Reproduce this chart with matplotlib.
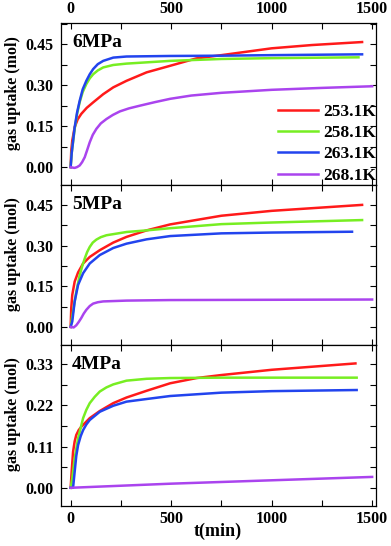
import matplotlib
matplotlib.use("Agg")
import matplotlib.pyplot as plt
from matplotlib.ticker import MultipleLocator, AutoMinorLocator

plt.rcParams.update({
    "font.family": ["Liberation Serif", "DejaVu Serif"],
    "font.weight": "bold",
    "axes.labelweight": "bold",
    "font.size": 11.5,
})

LABELS = ["253.1K", "258.1K", "263.1K", "268.1K"]
COLORS = ["#ff1a1a", "#77ee22", "#2244ee", "#aa44ee"]
PANELS = ["6MPa", "5MPa", "4MPa"]

# ---- 6 MPa ----
t6_red = [0, 3, 8, 20, 35, 53, 80, 112, 162, 212, 278, 378, 495, 625, 750, 1000, 1200, 1450]
y6_red = [0, 0.06, 0.097, 0.146, 0.175, 0.195, 0.217, 0.237, 0.267, 0.292, 0.316, 0.347,
          0.371, 0.398, 0.41, 0.435, 0.447, 0.458]
t6_grn = [0, 5, 20, 32, 45, 60, 78, 95, 112, 135, 162, 212, 278, 495, 750, 1000, 1432]
y6_grn = [0, 0.05, 0.14, 0.195, 0.238, 0.275, 0.304, 0.325, 0.34, 0.354, 0.365, 0.374,
          0.379, 0.389, 0.396, 0.399, 0.402]
t6_blu = [0, 5, 20, 32, 45, 60, 78, 95, 112, 135, 162, 212, 278, 495, 750, 1000, 1450]
y6_blu = [0, 0.05, 0.146, 0.2, 0.243, 0.285, 0.316, 0.34, 0.359, 0.377, 0.389, 0.401,
          0.405, 0.407, 0.408, 0.41, 0.413]
t6_pur = [0, 10, 20, 32, 45, 57, 70, 82, 95, 110, 128, 150, 178, 210, 245, 290, 345, 420,
          495, 600, 750, 1000, 1250, 1500]
y6_pur = [0, -0.002, -0.003, 0.0, 0.006, 0.018, 0.036, 0.062, 0.091, 0.118, 0.14, 0.16,
          0.176, 0.191, 0.204, 0.215, 0.225, 0.238, 0.25, 0.262, 0.272, 0.283, 0.29, 0.296]

# ---- 5 MPa ----
t5_red = [0, 3, 8, 20, 37, 62, 95, 145, 212, 278, 378, 495, 750, 1000, 1450]
y5_red = [0, 0.07, 0.118, 0.167, 0.201, 0.234, 0.258, 0.283, 0.311, 0.332, 0.356,
          0.378, 0.41, 0.428, 0.45]
t5_grn = [0, 12, 28, 45, 58, 70, 82, 95, 110, 128, 150, 178, 278, 378, 495, 750, 1000, 1450]
y5_grn = [0, 0.057, 0.13, 0.191, 0.225, 0.252, 0.276, 0.295, 0.311, 0.322, 0.331, 0.338,
          0.35, 0.356, 0.364, 0.379, 0.385, 0.394]
t5_blu = [0, 8, 20, 37, 62, 95, 145, 212, 278, 378, 495, 750, 1000, 1400]
y5_blu = [0, 0.02, 0.094, 0.155, 0.198, 0.234, 0.265, 0.291, 0.307, 0.323, 0.335,
          0.345, 0.348, 0.351]
t5_pur = [0, 15, 28, 40, 53, 65, 78, 95, 112, 135, 162, 278, 495, 1000, 1500]
y5_pur = [0, -0.002, 0.006, 0.018, 0.033, 0.049, 0.063, 0.077, 0.086, 0.091, 0.094,
          0.097, 0.099, 0.1, 0.101]

# ---- 4 MPa ----
t4_red = [0, 5, 12, 20, 28, 40, 53, 95, 145, 212, 278, 378, 495, 627, 750, 1000, 1417]
y4_red = [0, 0.043, 0.096, 0.124, 0.141, 0.154, 0.163, 0.186, 0.205, 0.226, 0.241, 0.259,
          0.279, 0.293, 0.301, 0.315, 0.332]
t4_grn = [0, 8, 20, 37, 62, 78, 95, 120, 145, 178, 212, 278, 378, 495, 750, 1000, 1423]
y4_grn = [0, 0.025, 0.079, 0.132, 0.186, 0.208, 0.226, 0.243, 0.257, 0.268, 0.276, 0.286,
          0.291, 0.293, 0.294, 0.294, 0.294]
t4_blu = [0, 12, 20, 28, 37, 50, 62, 78, 95, 145, 212, 278, 378, 495, 750, 1000, 1423]
y4_blu = [0, 0, 0.043, 0.085, 0.114, 0.138, 0.154, 0.169, 0.181, 0.203, 0.219, 0.23,
          0.237, 0.245, 0.254, 0.258, 0.261]
t4_pur = [0, 500, 1000, 1500]
y4_pur = [0, 0.011, 0.02, 0.029]

SERIES = [
    [(t6_red, y6_red), (t6_grn, y6_grn), (t6_blu, y6_blu), (t6_pur, y6_pur)],
    [(t5_red, y5_red), (t5_grn, y5_grn), (t5_blu, y5_blu), (t5_pur, y5_pur)],
    [(t4_red, y4_red), (t4_grn, y4_grn), (t4_blu, y4_blu), (t4_pur, y4_pur)],
]
YTICKS = [[0, 0.15, 0.30, 0.45], [0, 0.15, 0.30, 0.45], [0, 0.11, 0.22, 0.33]]
YLIMS = [(-0.066, 0.528), (-0.067, 0.523), (-0.049, 0.381)]

fig = plt.figure(figsize=(3.91, 5.46), dpi=100)
left, width = 0.155, 0.806
bounds = [(0.661, 0.297), (0.368, 0.293), (0.073, 0.295)]

axes = []
for i, (b, h) in enumerate(bounds):
    ax = fig.add_axes([left, b, width, h])
    for (t, y), c, lab in zip(SERIES[i], COLORS, LABELS):
        ax.plot(t, y, color=c, lw=1.8, label=lab, solid_joinstyle="round")
    ax.set_xlim(-50, 1518)
    ax.set_ylim(*YLIMS[i])
    ax.set_yticks(YTICKS[i])
    ax.set_yticklabels([f"{v:.2f}" for v in YTICKS[i]])
    ax.yaxis.set_minor_locator(AutoMinorLocator(2))
    ax.xaxis.set_major_locator(MultipleLocator(500))
    ax.xaxis.set_minor_locator(MultipleLocator(250))
    ax.tick_params(which="both", direction="in", top=True, right=True,
                   labelsize=11.5, width=0.8, length=4)
    ax.tick_params(axis="y", pad=5)
    ax.set_ylabel("gas uptake (mol)", fontsize=11.5)
    ax.yaxis.set_label_coords(-0.127, 0.57)
    ax.text(0.036, 0.93, PANELS[i], transform=ax.transAxes, fontsize=14,
            fontweight="bold", va="top", ha="left")
    for s in ax.spines.values():
        s.set_linewidth(0.9)
    if i == 0:
        ax.tick_params(axis="x", labeltop=True, labelbottom=False, pad=4)
    elif i == 1:
        ax.tick_params(labelbottom=False)
    else:
        ax.set_xlabel("t(min)", fontsize=13, labelpad=-3)
    axes.append(ax)

axes[0].legend(loc="lower right", bbox_to_anchor=(1.0, 0.008), frameon=False,
               fontsize=12.5, handlelength=2.3, handletextpad=0.3,
               labelspacing=0.3, borderaxespad=0, borderpad=0)

fig.savefig("out.png", dpi=100)
